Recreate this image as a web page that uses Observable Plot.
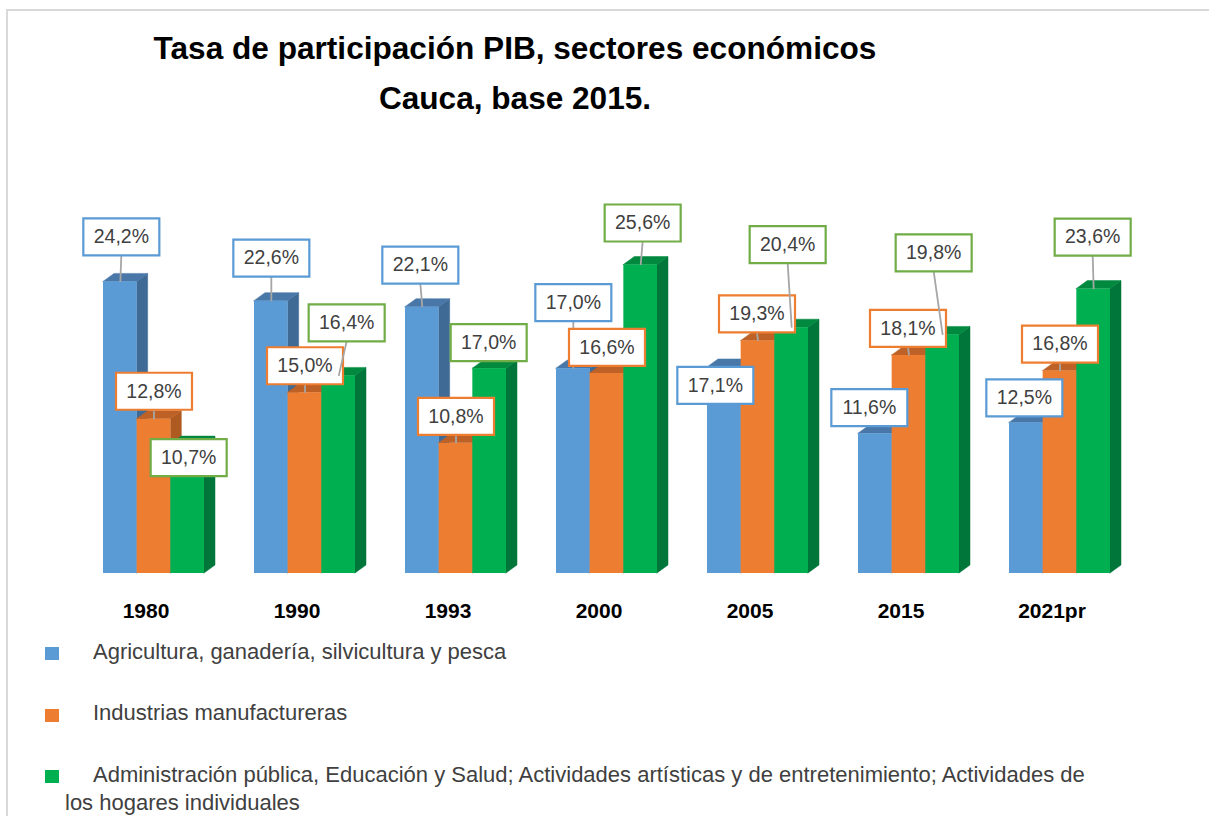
<!DOCTYPE html>
<html>
<head>
<meta charset="utf-8">
<script src="https://cdn.jsdelivr.net/npm/d3@7"></script>
<script src="https://cdn.jsdelivr.net/npm/@observablehq/plot@0.6"></script>
<style>
  body { margin: 0; background: #fff; font-family: "Liberation Sans", Arial, sans-serif; }
  #page { position: relative; width: 1209px; height: 816px; overflow: hidden; background: #fff; }
  #frame { position: absolute; left: 6px; top: 9px; width: 1220px; height: 830px;
           border-left: 2.5px solid #d9d9d9; border-top: 2.5px solid #d9d9d9; }
  #title { position: absolute; left: 0; top: 23px; width: 1030px; text-align: center;
           font-weight: bold; font-size: 31.6px; line-height: 50px; color: #000; }
  #chart { position: absolute; left: 0; top: 120px; }
  .leg { position: absolute; font-size: 22px; line-height: 28px; color: #404040; }
  .sw { position: absolute; width: 14px; height: 13px; }
</style>
</head>
<body>
<div id="page">
  <div id="frame"></div>
  <div id="title">Tasa de participación PIB, sectores económicos<br>Cauca, base 2015.</div>
  <div id="chart"></div>
  <div id="legend"></div>
</div>
<script>
// ---- data ----
const years = ["1980", "1990", "1993", "2000", "2005", "2015", "2021pr"];
const sectorNames = [
  "Agricultura, ganadería, silvicultura y pesca",
  "Industrias manufactureras",
  "Administración pública, Educación y Salud; Actividades artísticas y de entretenimiento; Actividades de los hogares individuales"
];
const agricultura    = [24.2, 22.6, 22.1, 17.0, 17.1, 11.6, 12.5];
const industria      = [12.8, 15.0, 10.8, 16.6, 19.3, 18.1, 16.8];
const administracion = [10.7, 16.4, 17.0, 25.6, 20.4, 19.8, 23.6];

// ---- layout (label callout offsets in pixels from each bar top) ----
const offAgricultura    = [[1,-45],[0,-43],[-2,-42],[0,-66],[-9,18],[-6,-26],[-2,-25]];
const offIndustria      = [[0,-28],[0,-27],[0,-27],[0,-26],[-1,-27],[-1,-27],[0,-27]];
const offAdministracion = [[1,13],[8,-53],[-1,-26],[2,-42],[-4,-83],[-9,-82],[-1,-52]];

const series = [
  {name: sectorNames[0], values: agricultura,    offs: offAgricultura,    front: "#5B9BD5", side: "#3E6A95", top: "#4877A8", border: "#5B9BD5"},
  {name: sectorNames[1], values: industria,      offs: offIndustria,      front: "#ED7D31", side: "#AE5A21", top: "#BE6126", border: "#ED7D31"},
  {name: sectorNames[2], values: administracion, offs: offAdministracion, front: "#00B050", side: "#00763A", top: "#00893F", border: "#70AD47"}
];

const W = 1209, H = 520;
const mL = 78, mR = 74, mT = 60, mB = 67;
const pxPerGroup = (W - mL - mR) / years.length;
const pxPerPct = 12.05;
const yMax = (H - mT - mB) / pxPerPct;
const barPx = 33.67, depthX = 11, depthY = 8;
const bw = barPx / pxPerGroup, ddx = depthX / pxPerGroup, ddy = depthY / pxPerPct;
const boxW = 76, boxH = 37;
const fmt = v => v.toFixed(1).replace(".", ",") + "%";
const boxSymbol = {draw(ctx) { ctx.rect(-boxW / 2, -boxH / 2, boxW, boxH); }};

const barMarks = [];
const labelMarks = [];
series.forEach((s, j) => {
  const bars = s.values.map((v, i) => ({
    i, v,
    x1: i + (j - 1.5) * bw,
    x2: i + (j - 0.5) * bw,
    xc: i + (j - 1) * bw
  }));
  const sidePts = bars.flatMap(b => [
    {id: b.i, x: b.x2, y1: 0, y2: b.v},
    {id: b.i, x: b.x2 + ddx, y1: ddy, y2: b.v + ddy}
  ]);
  const topPts = bars.flatMap(b => [
    {id: b.i, x: b.x1, y1: b.v, y2: b.v},
    {id: b.i, x: b.x1 + ddx, y1: b.v, y2: b.v + ddy},
    {id: b.i, x: b.x2, y1: b.v, y2: b.v + ddy},
    {id: b.i, x: b.x2 + ddx, y1: b.v + ddy, y2: b.v + ddy}
  ]);
  barMarks.push(
    Plot.areaY(sidePts, {x: "x", y1: "y1", y2: "y2", z: "id", fill: s.side, stroke: s.side, strokeWidth: 0.5}),
    Plot.areaY(topPts, {x: "x", y1: "y1", y2: "y2", z: "id", fill: s.top, stroke: s.top, strokeWidth: 0.5}),
    Plot.rect(bars, {x1: "x1", x2: "x2", y1: 0, y2: "v", fill: s.front})
  );
  const labels = bars.map((b, k) => {
    const [ox, oy] = s.offs[k];
    const lx = b.xc + ox / pxPerGroup;
    const ly = b.v - oy / pxPerPct;
    const show = Math.abs(oy) > boxH / 2 + 8 || Math.abs(ox) > boxW / 2 + 8;
    const ey = oy < 0 ? ly - (boxH / 2) / pxPerPct : ly + (boxH / 2) / pxPerPct;
    return {...b, lx, ly, ey, show, text: fmt(b.v)};
  });
  labelMarks.push(
    Plot.link(labels.filter(d => d.show), {x1: "lx", y1: "ey", x2: "xc", y2: "v", stroke: "#A6A6A6", strokeWidth: 1.8}),
    Plot.dot(labels, {x: "lx", y: "ly", symbol: boxSymbol, fill: "white", stroke: s.border, strokeWidth: 2.2}),
    Plot.text(labels, {x: "lx", y: "ly", text: "text", fontSize: 19.5, fill: "#404040"})
  );
});

const chart = Plot.plot({
  width: W, height: H,
  marginLeft: mL, marginRight: mR, marginTop: mT, marginBottom: mB,
  style: {fontFamily: "Liberation Sans, Arial, sans-serif", background: "transparent", overflow: "visible"},
  x: {domain: [-0.5, years.length - 0.5], axis: null},
  y: {domain: [0, yMax], axis: null},
  marks: [
    ...barMarks,
    ...labelMarks,
    Plot.axisX(d3.range(years.length), {
      tickFormat: i => years[i], tickSize: 0, tickPadding: 30, dx: -8,
      fontSize: 21, fontWeight: "bold", fill: "#000", label: null
    })
  ]
});
document.getElementById("chart").appendChild(chart);

// legend
const legend = document.getElementById("legend");
series.forEach((s, k) => {
  const top = 637.5 + 61.5 * k;
  const sw = document.createElement("div");
  sw.className = "sw";
  sw.style.left = "45px";
  sw.style.top = (top + 9.5) + "px";
  sw.style.background = s.front;
  legend.appendChild(sw);
  const t = document.createElement("div");
  t.className = "leg";
  t.style.left = "65px";
  t.style.top = top + "px";
  t.style.width = "1035px";
  t.style.textIndent = "28px";
  t.textContent = s.name;
  legend.appendChild(t);
});
</script>
</body>
</html>
